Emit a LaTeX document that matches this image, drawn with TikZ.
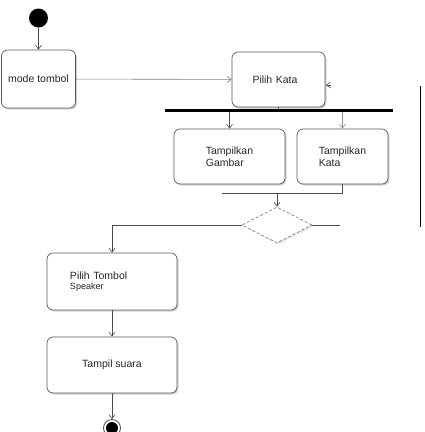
\documentclass[tikz,border=0pt]{standalone}
\usepackage{fontspec}
\setmainfont{Liberation Sans}
\usetikzlibrary{arrows.meta,shapes.geometric,shadows}
\begin{document}
\begin{tikzpicture}[x=1pt,y=-1pt,
  act/.style={draw=black!65, rounded corners=6pt, fill=white, line width=0.7pt,
    drop shadow={shadow xshift=1.5pt, shadow yshift=-1.5pt, fill=black!30, opacity=0.6},
    font=\fontsize{10.5}{12}\selectfont, text=black!85, inner sep=0pt},
  flow/.style={draw=black!70, line width=0.6pt, -{Straight Barb[length=4pt,width=6pt]}},
  plain/.style={draw=black!70, line width=0.6pt},
  dec/.style={diamond, aspect=2, draw=black!55, densely dashed, fill=white, line width=0.6pt,
    minimum width=70pt, minimum height=36pt, inner sep=0pt,
    drop shadow={shadow xshift=1.5pt, shadow yshift=-1.5pt, fill=black!20, opacity=0.5}}]
\useasboundingbox (0,0) rectangle (424,432);

\node[circle, fill=black, minimum size=19pt, inner sep=0pt] (start) at (38.5,18) {};
\node[act, minimum width=74pt, minimum height=58pt] (mode) at (38.5,79) {mode tombol};
\node[act, minimum width=93pt, minimum height=55pt, text width=80pt, align=left] (pilih) at (278.5,79.5) {\hspace*{14pt}Pilih Kata};
\node[fill=black, minimum width=228pt, minimum height=2.5pt, inner sep=0pt] (fork) at (279,110.5) {};
\node[act, minimum width=111pt, minimum height=55pt, align=left] (gambar) at (229.5,156.5) {Tampilkan\\Gambar};
\node[act, minimum width=91pt, minimum height=55pt, align=left] (kata) at (342.5,156.5) {Tampilkan\\Kata};
\node[dec] (dec) at (277,225) {};
\node[act, minimum width=130pt, minimum height=57pt, text width=84pt, align=left] (speaker) at (112,281.5)
  {Pilih Tombol\\[-2pt]{\fontsize{9}{10}\selectfont Speaker}};
\node[act, minimum width=130pt, minimum height=56pt] (suara) at (112,365) {Tampil suara};
\node[circle, draw=black!70, line width=0.8pt, minimum size=17pt, inner sep=0pt] (end) at (112,428) {};
\fill[black] (end.center) circle (6pt);

\coordinate (j1) at (222,193);
\coordinate (jm) at (277,193);
\coordinate (dl) at (112,225);
\coordinate (dr) at (340,225);
\coordinate (lane1) at (420.5,86);
\coordinate (lane2) at (420.5,227);
\coordinate (back) at (331,85);
\coordinate (backend) at (326,85);

\draw[flow] (start) -- (mode);
\draw[flow, draw=black!50] (mode) -- (pilih);
\draw[plain] (pilih.south) -- (pilih.south |- fork.north);
\draw[flow] (gambar.north |- fork.south) -- (gambar.north);
\draw[flow, draw=black!45] (kata.north |- fork.south) -- (kata.north);
\draw[plain, line width=0.8pt] (kata.south) |- (j1);
\draw[flow] (jm) -- (dec.north);
\draw[plain] (dec.west) -- (dl);
\draw[flow] (dl) -- (speaker.north);
\draw[plain] (dec.east) -- (dr);
\draw[flow] (speaker) -- (suara);
\draw[flow] (suara) -- (end);
\draw[flow] (back) -- (backend);
\draw[black, line width=1.6pt] (lane1) -- (lane2);
\end{tikzpicture}
\end{document}
